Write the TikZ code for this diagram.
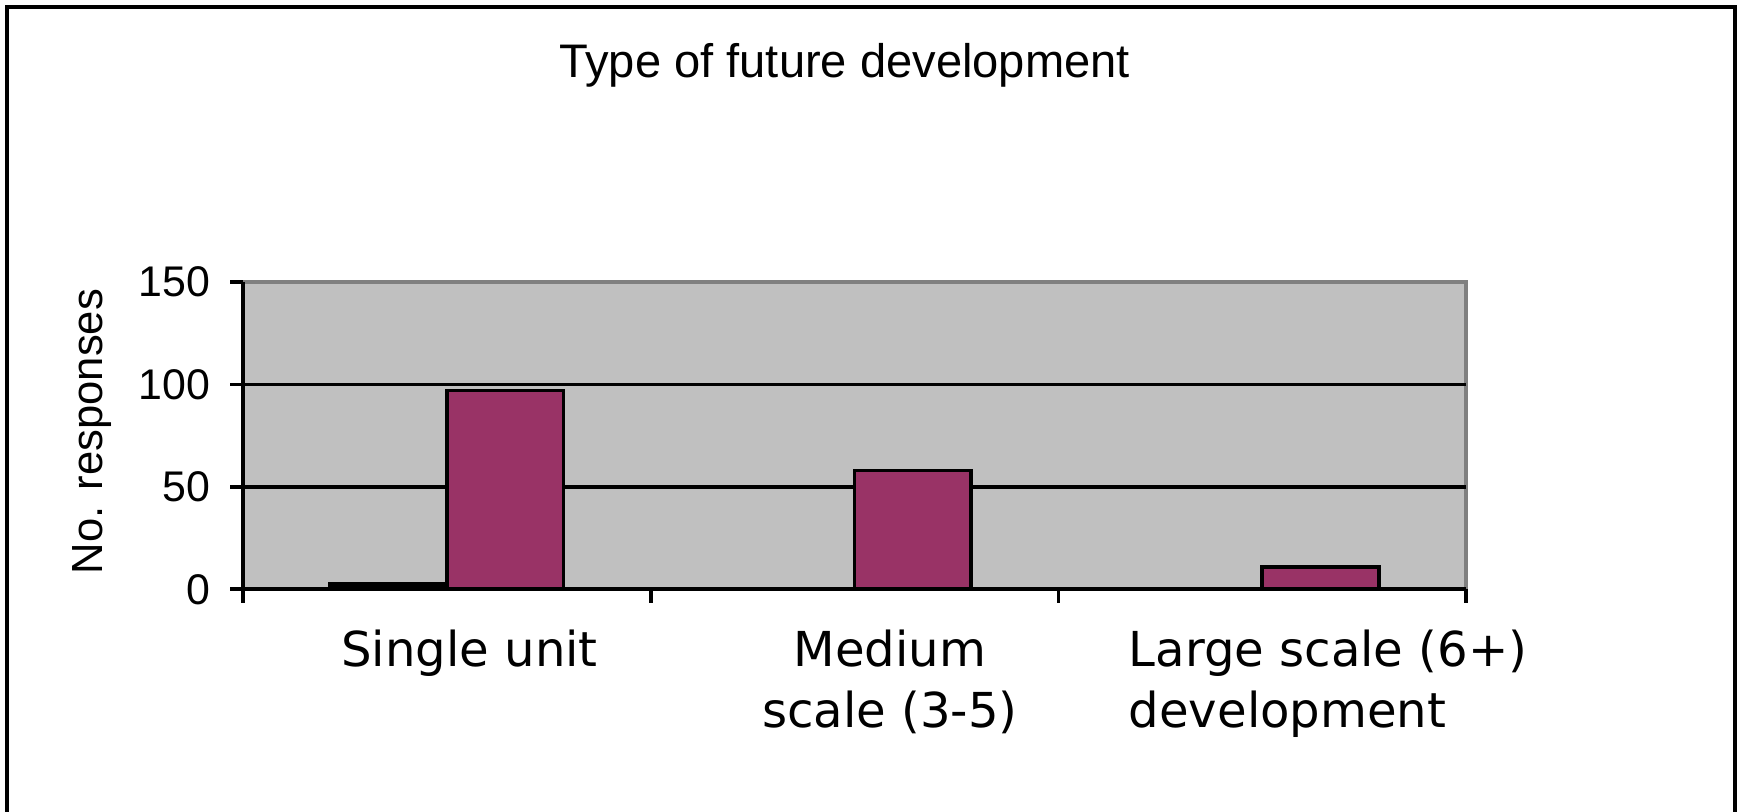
\documentclass[tikz,border=0pt]{standalone}
\usepackage{fontspec}
\setmainfont{Liberation Sans}
\newfontfamily\catfont{DejaVu Sans}
\usetikzlibrary{positioning}
\definecolor{plum}{HTML}{993366}
\definecolor{plotgray}{HTML}{C0C0C0}
\definecolor{edgegray}{HTML}{808080}
\tikzset{bar/.style = {draw, fill=plum, line width=1.05pt},
         rule/.style = {line width=1.05pt},
         ylab/.style = {anchor=east, inner sep=0pt, font=\fontsize{12.2}{14}\selectfont},
         catlab/.style = {anchor=north, inner sep=0pt, font=\catfont\fontsize{13.7}{17.4}\selectfont}}

\begin{document}
\begin{tikzpicture}
            \useasboundingbox (0,0) rectangle (17.42,8.12);
            \draw[line width=1.25pt] (0.07,0) -- (0.07,8.05) -- (17.35,8.05) -- (17.35,0);

            \node[inner sep=0pt, anchor=base, font=\fontsize{13.4}{16}\selectfont] (title) at (8.445,7.34) {Type of future development};
            \node[inner sep=0pt, rotate=90, font=\fontsize{12.4}{15}\selectfont] (ytitle) at (0.92,3.805) {No. responses};

            \begin{scope}[shift={(2.43,2.227)}, x=4.077cm, y=0.0205cm]
            \fill[plotgray] (0,0) rectangle (3,150);
            \draw[edgegray, rule] (0,150) -- (3,150) -- (3,0);
            \foreach \v in {50,100}
                \draw[rule] (0,\v) -- (3,\v);

            \foreach \c/\v in {0/97,1/58,2/11}
                \draw[bar] (\c+0.5,0) rectangle (\c+0.786,\v);
            \draw[bar, fill=black] (0.214,0) rectangle (0.5,2.5);

            \draw[rule] (0,150) -- (0,0) -- (3,0);
            \foreach \v in {0,50,100,150} {
                \draw[rule] ([xshift=-1.3mm]0,\v) -- (0,\v);
                \node[ylab] (v\v) at ([xshift=-3.2mm]0,\v) {\v};
            }
            \foreach \c in {0,1,2,3}
                \draw[rule] (\c,0) -- ([yshift=-1.4mm]\c,0);
            \end{scope}

            \node[catlab] (single) at (4.695,1.825) {Single unit};
            \node[catlab, align=center] (medium) at (8.9,1.825) {Medium\\scale (3-5)};
            \node[catlab, anchor=north west, align=left] (large) at (11.28,1.825) {Large scale (6+)\\development};
\end{tikzpicture}
\end{document}
